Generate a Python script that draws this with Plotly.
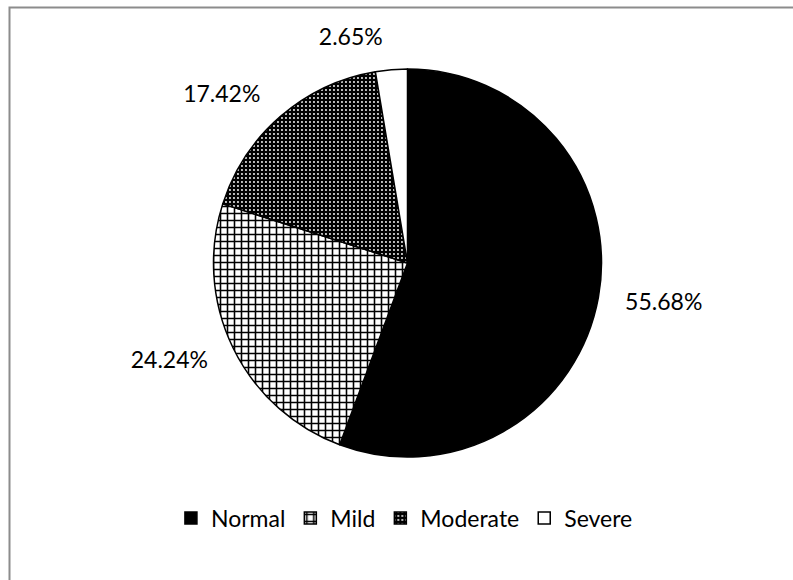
import plotly.graph_objects as go

categories = ["Normal", "Mild", "Moderate", "Severe"]
values = [55.68, 24.24, 17.42, 2.65]

fill_colors = ["black", "white", "black", "white"]
pattern_shapes = ["", "+", ".", ""]
pattern_fg = ["black", "black", "white", "black"]
pattern_bg = ["black", "white", "black", "white"]
pattern_size = [6, 7, 4, 6]
pattern_solidity = [0.3, 0.4, 0.18, 0.3]

W, H = 793, 580
CX, CY, R = 407.5, 263, 194      # pie centre / radius in pixels
R_LABEL = R + 20                 # radius used to place the outside labels

FONT = "Lato"
FS = 23

fig = go.Figure()

# invisible, slightly larger pie that only carries the percentage labels
fig.add_trace(go.Pie(
    labels=categories,
    values=values,
    sort=False,
    direction="clockwise",
    rotation=0,
    marker=dict(colors=["rgba(0,0,0,0)"] * 4, line=dict(width=0)),
    texttemplate="%{value:.2f}%",
    textposition="outside",
    textfont=dict(family=FONT, size=FS, color="black"),
    domain=dict(x=[(CX - R_LABEL) / W, (CX + R_LABEL) / W],
                y=[1 - (CY + R_LABEL) / H, 1 - (CY - R_LABEL) / H]),
    showlegend=False,
    hoverinfo="skip",
))

# the visible pie
fig.add_trace(go.Pie(
    labels=categories,
    values=values,
    sort=False,
    direction="clockwise",
    rotation=0,
    marker=dict(
        colors=fill_colors,
        line=dict(color="black", width=1.5),
        pattern=dict(
            shape=pattern_shapes,
            fgcolor=pattern_fg,
            bgcolor=pattern_bg,
            size=pattern_size,
            solidity=pattern_solidity,
            fillmode="replace",
        ),
    ),
    textinfo="none",
    domain=dict(x=[(CX - R) / W, (CX + R) / W],
                y=[1 - (CY + R) / H, 1 - (CY - R) / H]),
    showlegend=True,
    hoverinfo="label+percent",
))

fig.add_shape(type="rect", xref="paper", yref="paper",
              x0=9.5 / W, x1=1.05, y0=-0.05, y1=1 - 7.5 / H,
              line=dict(color="#8c8c8c", width=2), fillcolor="rgba(0,0,0,0)", layer="below")

fig.update_layout(
    width=W, height=H,
    margin=dict(l=0, r=0, t=0, b=0),
    paper_bgcolor="white",
    plot_bgcolor="white",
    font=dict(family=FONT, size=FS, color="black"),
    legend=dict(orientation="h", x=0.51, xanchor="center", y=1 - 518 / H, yanchor="middle",
                font=dict(family=FONT, size=FS, color="black"), itemwidth=30,
                traceorder="normal"),
)

fig.write_html("out.html")
